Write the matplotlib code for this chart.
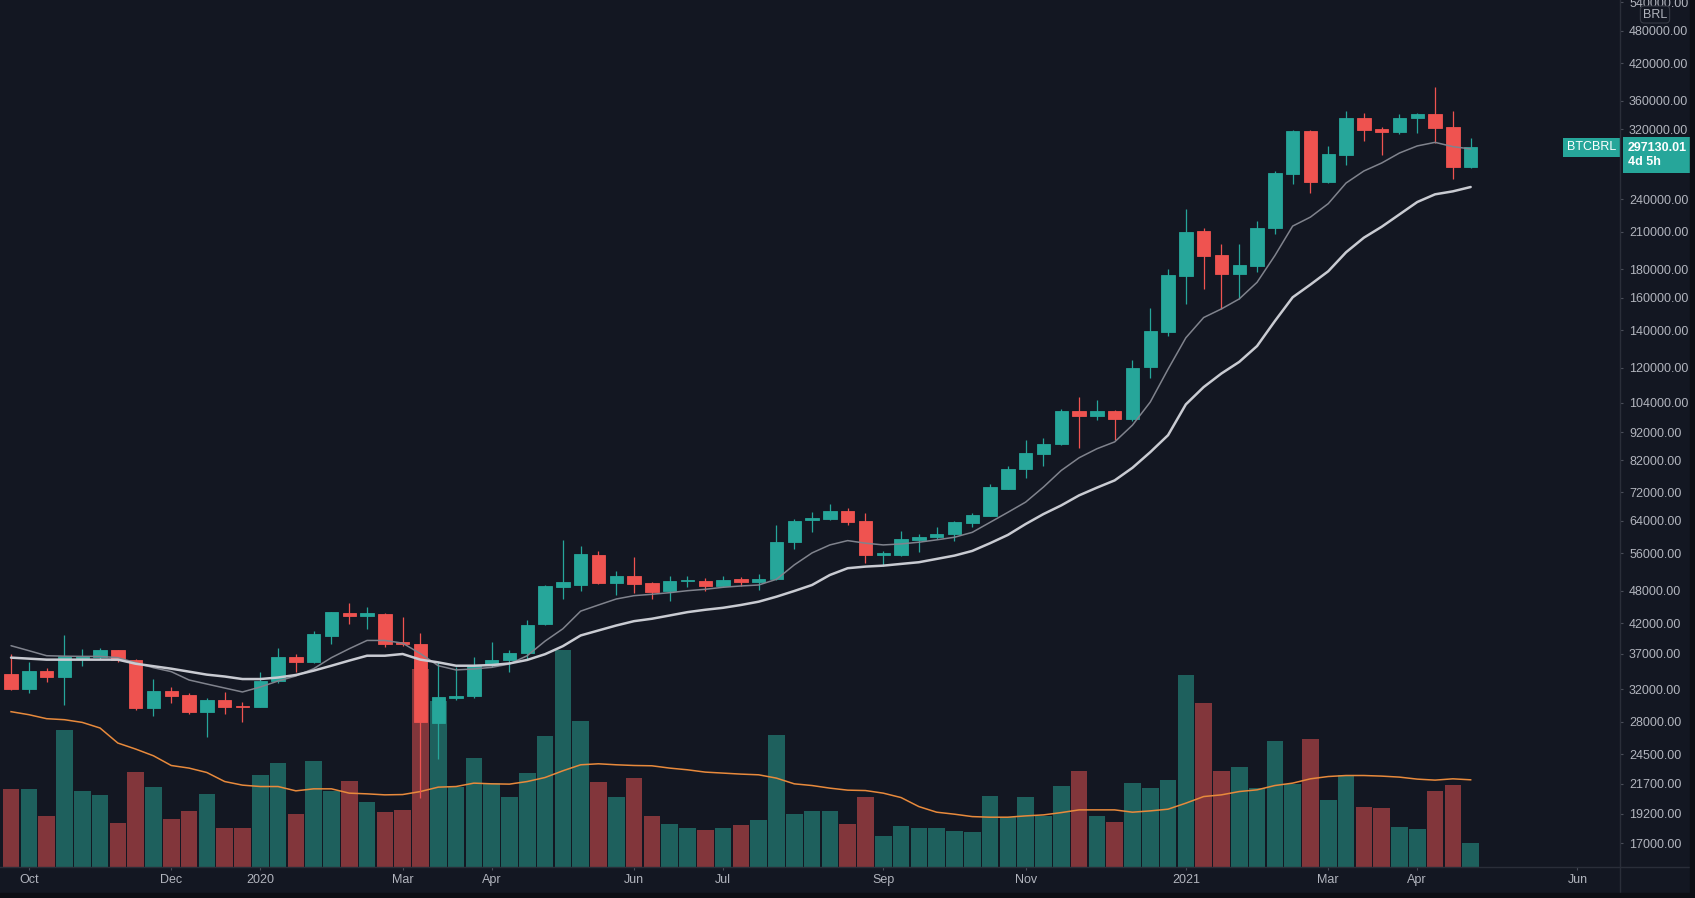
import numpy as np
import pandas as pd
import matplotlib
matplotlib.use("Agg")
import matplotlib.pyplot as plt
from matplotlib.ticker import FixedLocator, FuncFormatter, NullLocator
from matplotlib.lines import Line2D
from matplotlib.patches import Rectangle

# ---------------- data (weekly BTCBRL) ----------------
weeks = pd.date_range("2019-09-30", periods=83, freq="W-MON")

open_ = [34080, 32000, 34550, 33700, 36400, 36580, 37600, 36130, 29670, 31820,
         31260, 29180, 30620, 29880, 29790, 33050, 36580, 35840, 39900, 43830,
         43290, 43650, 38850, 38530, 27880, 30910, 31130, 35380, 36150, 37090,
         41780, 48670, 49130, 55610, 49600, 50960, 49480, 48000, 49880, 49880,
         48930, 50300, 49740, 50370, 58750, 64100, 64530, 66690, 64000, 55610,
         55610, 59160, 59970, 60560, 63320, 65350, 73000, 79250, 84050, 87680,
         100350, 98300, 100350, 97380, 120190, 139030, 175430, 210340, 190950, 176370,
         182770, 213490, 266000, 317900, 257300, 288400, 334770, 320000, 317060, 334770,
         340800, 322600, 273900]

high = [37000, 35740, 34930, 40010, 37760, 38000, 37600, 36230, 33370, 32340,
        31550, 30830, 31610, 30400, 34300, 38000, 37000, 40600, 44060, 45690,
        44870, 43800, 43050, 40270, 35740, 35100, 36500, 38910, 37600, 42600,
        49130, 59140, 57760, 56600, 52080, 55160, 49680, 50960, 50960, 50620,
        50960, 50820, 51380, 62880, 64450, 66240, 68530, 67350, 65970, 56600,
        61380, 60640, 62300, 64000, 66060, 74530, 80000, 89140, 89980, 101470,
        106420, 104990, 100770, 123900, 153560, 180200, 230330, 212960, 200070, 200070,
        219500, 269300, 319200, 318500, 299300, 345500, 341700, 323550, 340800, 341700,
        380930, 344500, 308500]

low = [31900, 31550, 33010, 30000, 35270, 36180, 35740, 29390, 28720, 30280,
       28900, 26330, 28900, 28000, 29700, 32780, 34300, 35700, 38530, 41780,
       40930, 38150, 38260, 20450, 24000, 30620, 30910, 35040, 34300, 36090,
       41700, 46300, 47940, 49300, 47160, 47620, 46430, 46060, 48790, 48000,
       48670, 48930, 48130, 50200, 57000, 61200, 64260, 62880, 53900, 53170,
       55450, 56370, 59410, 58920, 62450, 65180, 72800, 76440, 80090, 87320,
       86360, 96700, 89140, 96600, 115150, 136600, 156100, 165700, 152900, 159340,
       177800, 207760, 255500, 246000, 257000, 276150, 305500, 288400, 313600, 315800,
       302500, 260500, 273000]

close = [32000, 34550, 33700, 36640, 36740, 37600, 36090, 29670, 31820, 31170,
         29180, 30620, 29790, 29790, 33140, 36580, 35840, 40170, 43940, 43290,
         43710, 38630, 38530, 28000, 31040, 31130, 35180, 36150, 37150, 41730,
         48930, 49680, 55840, 49480, 50960, 49330, 47690, 49880, 50150, 48930,
         50090, 49740, 50430, 58750, 63920, 64630, 66520, 63580, 55610, 56000,
         59330, 59970, 60640, 63580, 65530, 73500, 79250, 84600, 87570, 100350,
         98300, 100350, 97380, 119800, 139600, 176150, 209480, 190400, 176370, 183300,
         213490, 267870, 317900, 257300, 288770, 334770, 319200, 317060, 334770, 340800,
         321300, 273900, 297130.01]

volume = [777, 777, 510, 1363, 757, 720, 443, 953, 803, 480,
          563, 730, 387, 387, 917, 1037, 527, 1057, 760, 860,
          647, 547, 570, 1977, 1653, 803, 1087, 843, 703, 937,
          1310, 2163, 1460, 853, 703, 890, 510, 433, 387, 370,
          387, 417, 470, 1317, 527, 563, 557, 427, 697, 310,
          407, 387, 387, 360, 350, 713, 497, 697, 510, 810,
          957, 510, 453, 843, 787, 870, 1917, 1637, 957, 993,
          787, 1253, 830, 1273, 667, 917, 603, 593, 397, 380,
          760, 817, 237]

volume_ma = [1550, 1520, 1480, 1470, 1443, 1387, 1237, 1177, 1110, 1013,
             987, 943, 853, 817, 803, 803, 760, 780, 780, 737,
             730, 720, 723, 753, 797, 803, 837, 830, 827, 853,
             893, 960, 1020, 1030, 1020, 1013, 1010, 987, 970, 947,
             937, 927, 920, 887, 830, 813, 787, 767, 763, 737,
             693, 603, 547, 527, 503, 497, 497, 510, 520, 543,
             570, 570, 570, 547, 560, 577, 637, 703, 720, 753,
             770, 813, 837, 880, 903, 913, 913, 907, 897, 877,
             867, 880, 870]

ma_fast = [38280, 37510, 36740, 36670, 36640, 36640, 36450, 35700, 34970, 34410,
           33250, 32700, 32170, 31650, 32300, 33110, 33800, 34830, 36450, 37810,
           39120, 39120, 38690, 37050, 35260, 34650, 34790, 35020, 35510, 36740,
           39010, 41040, 44130, 45260, 46390, 47030, 47300, 47610, 48000, 48280,
           48680, 48940, 49140, 50300, 53370, 56070, 57940, 58980, 58360, 57940,
           58180, 58590, 59160, 59800, 61020, 63580, 66250, 69100, 73500, 78700,
           82910, 86040, 88510, 94810, 104260, 119360, 135800, 147600, 152930, 159340,
           170600, 190400, 214980, 223090, 235790, 256630, 269620, 278640, 290330, 298900,
           303350, 298050, 295230]

ma_slow = [36450, 36300, 36150, 36150, 36150, 36150, 36150, 35550, 35190, 34830,
           34410, 33990, 33730, 33380, 33380, 33590, 33940, 34550, 35260, 36010,
           36740, 36740, 37000, 36150, 35750, 35260, 35260, 35360, 35590, 36110,
           36970, 38210, 39930, 40760, 41600, 42350, 42770, 43350, 43950, 44380,
           44740, 45260, 45880, 46830, 47940, 49140, 51200, 52650, 53000, 53210,
           53590, 53960, 54700, 55450, 56530, 58350, 60370, 63140, 65780, 68170,
           71030, 73320, 75550, 79570, 84850, 90990, 103280, 110890, 117270, 122990,
           131270, 145460, 160400, 169030, 178530, 193040, 204950, 214360, 225560, 237340,
           244980, 247990, 252450]

price_ticks = [17000, 19200, 21700, 24500, 28000, 32000, 37000, 42000, 48000, 56000,
               64000, 72000, 82000, 92000, 104000, 120000, 140000, 160000, 180000,
               210000, 240000, 320000, 360000, 420000, 480000, 540000]

month_ticks = ["2019-10", "2019-12", "2020-01", "2020-03", "2020-04", "2020-06", "2020-07",
               "2020-09", "2020-11", "2021-01", "2021-03", "2021-04", "2021-06"]
month_names = ["Oct", "Dec", "2020", "Mar", "Apr", "Jun", "Jul",
               "Sep", "Nov", "2021", "Mar", "Apr", "Jun"]

symbol = "BTCBRL"
currency = "BRL"
countdown = "4d 5h"

# ---------------- style ----------------
BG = "#131722"
UP = "#26a69a"
DOWN = "#ef5350"
VOL_UP = "#1e605d"
VOL_DOWN = "#82363b"
TEXT = "#b2b5be"
LINE = "#2a2e39"
TICK = "#4a4e59"
FS = 9.0

plt.rcParams['font.family'] = ['Liberation Sans', 'DejaVu Sans']

W, H = 1695, 898
fig = plt.figure(figsize=(W / 100, H / 100), dpi=100, facecolor=BG)

pane_w, pane_h = 1620, 867
rect = [0, (H - pane_h) / H, pane_w / W, pane_h / H]
ax_vol = fig.add_axes(rect, facecolor=BG)
ax = fig.add_axes(rect, facecolor='none', sharex=ax_vol)

o = np.array(open_, float)
h = np.array(high, float)
l = np.array(low, float)
c = np.array(close, float)
x = np.arange(len(c))
up = c >= o
ccol = np.where(up, UP, DOWN)
vcol = np.where(up, VOL_UP, VOL_DOWN)

# volume pane (drawn underneath)
ax_vol.bar(x, volume, width=0.93, color=vcol, edgecolor='none', zorder=2)
ax_vol.plot(x, volume_ma, color='#e88a3c', lw=1.1, zorder=3)
ax_vol.set_ylim(0, max(volume) * 4.0)
ax_vol.tick_params(axis='both', which='both', bottom=False, left=False, right=False,
                   top=False, labelbottom=False, labelleft=False)
for s in ax_vol.spines.values():
    s.set_visible(False)

# candles
ax.vlines(x, l, h, colors=ccol, linewidth=0.9, zorder=3)
body_lo = np.minimum(o, c)
body_hi = np.maximum(o, c)
ax.bar(x, body_hi - body_lo, bottom=body_lo, width=0.75, color=ccol,
       edgecolor=ccol, linewidth=0.6, zorder=4)

# moving averages
ax.plot(x, ma_fast, color='#80838d', lw=1.1, zorder=5, solid_capstyle='round')
ax.plot(x, ma_slow, color='#c9cbd2', lw=1.8, zorder=5, solid_capstyle='round')

ax.set_yscale('log')
ax.set_ylim(15410, 544700)
ax.set_xlim(-0.62, 90.39)

ax.yaxis.tick_right()
ax.yaxis.set_major_locator(FixedLocator(price_ticks))
ax.yaxis.set_minor_locator(NullLocator())
ax.yaxis.set_major_formatter(FuncFormatter(lambda v, p: f"{v:.2f}"))
ax.tick_params(axis='y', which='major', colors=TICK, labelcolor=TEXT,
               labelsize=FS, length=2.2, width=0.8, pad=4.3)
ax.tick_params(axis='y', which='minor', length=0)

axis_weeks = pd.date_range(weeks[0], periods=100, freq="W-MON")
month_pos = [int(np.searchsorted(axis_weeks.values, np.datetime64(pd.Timestamp(m + "-01"))))
             for m in month_ticks]
ax.set_xticks(month_pos)
ax.set_xticklabels(month_names)
ax.tick_params(axis='x', colors=TICK, labelcolor=TEXT, labelsize=FS,
               length=2.2, width=0.8, pad=2.5)
for s in ax.spines.values():
    s.set_visible(False)

# pane borders
fig.add_artist(Line2D([pane_w / W, pane_w / W], [0, 1], transform=fig.transFigure,
                      color=LINE, lw=1))
fig.add_artist(Line2D([0, 1], [(H - pane_h) / H, (H - pane_h) / H],
                      transform=fig.transFigure, color=LINE, lw=1))
fig.add_artist(Rectangle((0, 0), 1, 5 / H, transform=fig.transFigure,
                         color='#0c0e14', zorder=10))
fig.add_artist(Rectangle((1690 / W, 0), 5 / W, 1, transform=fig.transFigure,
                         color='#0c0e14', zorder=10))

# last price label on the scale
ax.annotate(f"{close[-1]:.2f}\n{countdown}", xy=(1.0, close[-1]),
            xycoords=('axes fraction', 'data'), xytext=(8, 5.5),
            textcoords='offset pixels', ha='left', va='top', color='white',
            fontsize=FS, fontweight='bold', linespacing=1.25, annotation_clip=False,
            bbox=dict(boxstyle='square,pad=0.38', fc=UP, ec='none'), zorder=20)
ax.annotate(symbol, xy=(1.0, close[-1]), xycoords=('axes fraction', 'data'),
            xytext=(-4, 0), textcoords='offset pixels', ha='right', va='center',
            color='white', fontsize=FS, annotation_clip=False,
            bbox=dict(boxstyle='square,pad=0.28', fc=UP, ec='none'), zorder=20)

# currency badge
fig.text(1655 / W, 1 - 14.5 / H, currency, color=TEXT, fontsize=FS, ha='center',
         va='center', bbox=dict(boxstyle='round,pad=0.2,rounding_size=0.3',
                                fc=BG, ec='#363a45', lw=0.8))

fig.savefig("out.png", dpi=100, facecolor=BG)
